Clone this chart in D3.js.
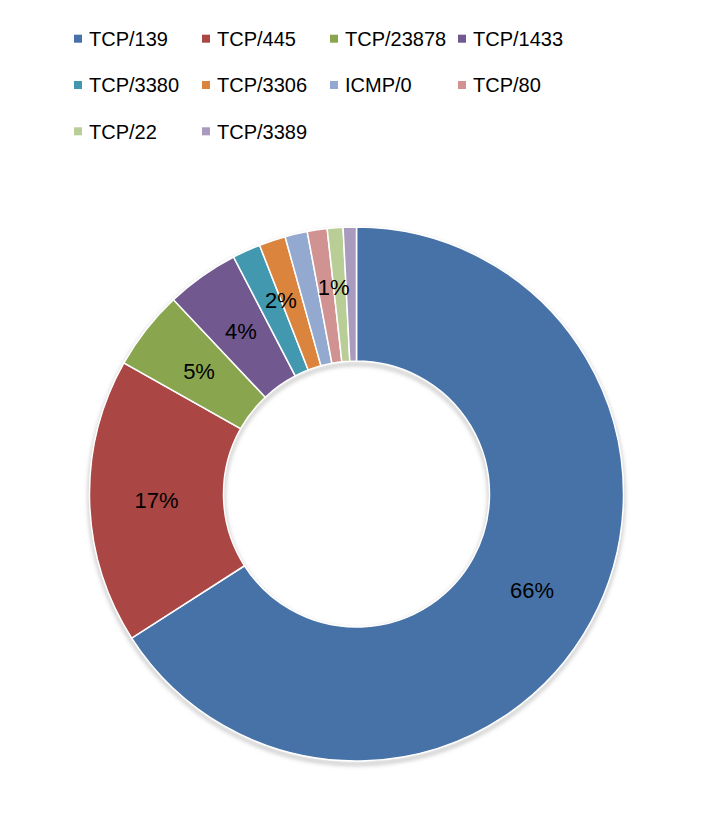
<!DOCTYPE html>
<html>
<head>
<meta charset="utf-8">
<script src="https://cdn.jsdelivr.net/npm/d3@7"></script>
<style>
  body { margin: 0; background: #fff; }
  text { font-family: "Liberation Sans", Arial, sans-serif; fill: #000; }
</style>
</head>
<body>
<div id="chart"></div>
<script>
// port categories, share of traffic (percent)
var categories = ['TCP/139', 'TCP/445', 'TCP/23878', 'TCP/1433', 'TCP/3380',
                  'TCP/3306', 'ICMP/0', 'TCP/80', 'TCP/22', 'TCP/3389'];
var values = [65.8, 17.2, 4.8, 4.4, 1.7, 1.6, 1.35, 1.2, 0.95, 0.8];
var colors = ['#4672A7', '#AA4643', '#89A54E', '#71588F', '#4198AF',
              '#DB843D', '#93A9CF', '#D19392', '#B9CD96', '#A99BBD'];
// which slices carry a label, and where ('mid' of slice or at its 'end' edge)
var labelAt = ['mid', 'mid', 'mid', 'mid', 'end', '', '', 'end', '', ''];

const dims = {
  width: 712,
  height: 831,
  cx: 356.5,
  cy: 494,
  outer: 267,
  inner: 133
};

const svg = d3.select('#chart').append('svg')
  .attr('width', dims.width)
  .attr('height', dims.height);

// shadow under the ring
const defs = svg.append('defs');
const blur = defs.append('filter').attr('id', 'soft')
  .attr('x', '-10%').attr('y', '-10%').attr('width', '120%').attr('height', '120%');
blur.append('feGaussianBlur').attr('stdDeviation', 2);

// LEGEND
const legend = svg.append('g').attr('class', 'legend');
const colW = 128, rowH = 46.3;
categories.forEach(function(c, i) {
  var col = i % 4, row = Math.floor(i / 4);
  var x = 74 + col * colW, y = 38.7 + row * rowH;
  legend.append('rect')
    .attr('x', x).attr('y', y - 4)
    .attr('width', 8).attr('height', 8)
    .attr('fill', colors[i]);
  legend.append('text')
    .attr('x', x + 15).attr('y', y)
    .attr('dy', '0.36em')
    .style('font-size', '20px')
    .text(c);
});

// DONUT
const total = d3.sum(values);
const pie = d3.pie().sort(null).value(function(d) { return d; });
const arcs = pie(values);

const arc = d3.arc().innerRadius(dims.inner).outerRadius(dims.outer);

const root = svg.append('g')
  .attr('transform', `translate(${dims.cx},${dims.cy})`);

// faint shadow rim
root.append('circle').attr('r', dims.outer).attr('cy', 3)
  .attr('fill', 'none').attr('stroke', '#bdbdbd').attr('stroke-width', 3)
  .attr('filter', 'url(#soft)');
root.append('circle').attr('r', dims.inner).attr('cy', 3)
  .attr('fill', 'none').attr('stroke', '#bdbdbd').attr('stroke-width', 3)
  .attr('filter', 'url(#soft)');

root.selectAll('path.slice')
  .data(arcs)
  .enter().append('path')
  .attr('class', 'slice')
  .attr('d', arc)
  .attr('fill', function(d, i) { return colors[i]; })
  .attr('stroke', '#fff')
  .attr('stroke-width', 1.5);

// LABELS
const labelArc = d3.arc().innerRadius(200).outerRadius(200);
const edgeArc = d3.arc().innerRadius(208).outerRadius(208);

root.selectAll('text.pct')
  .data(arcs.filter(function(d, i) { return labelAt[i] !== ''; }))
  .enter().append('text')
  .attr('class', 'pct')
  .attr('transform', function(d) {
    var p;
    if (labelAt[d.index] === 'end') {
      p = edgeArc.centroid({ startAngle: d.endAngle, endAngle: d.endAngle });
    } else {
      p = labelArc.centroid(d);
    }
    return `translate(${p[0]},${p[1]})`;
  })
  .attr('text-anchor', 'middle')
  .attr('dy', '0.36em')
  .style('font-size', '22px')
  .text(function(d) { return Math.round(d.value / total * 100) + '%'; });
</script>
</body>
</html>
